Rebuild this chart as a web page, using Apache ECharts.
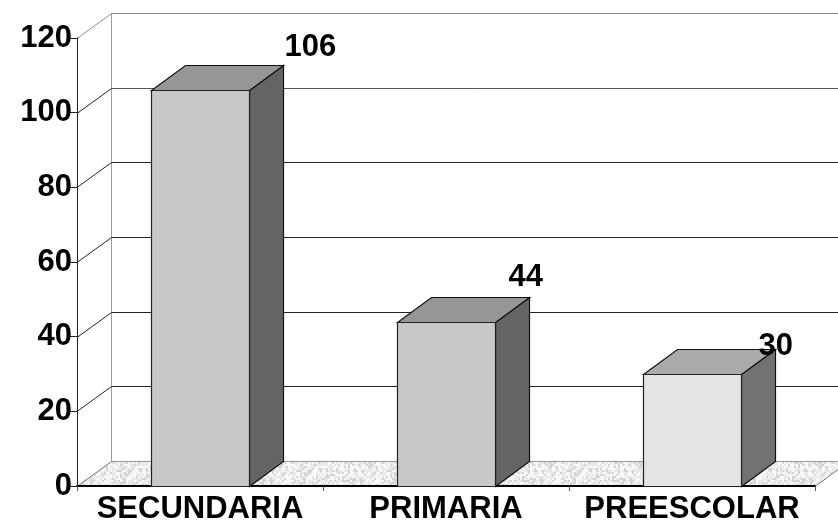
<!DOCTYPE html>
<html>
<head>
<meta charset="utf-8">
<title>Chart</title>
<script src="https://cdn.jsdelivr.net/npm/echarts@6/dist/echarts.min.js"></script>
<style>
html, body { margin: 0; padding: 0; background: #fff; }
#main { width: 838px; height: 532px; }
</style>
</head>
<body>
<div id="main"></div>
<script>
var categories = ['SECUNDARIA', 'PRIMARIA', 'PREESCOLAR'];
var values = [106, 44, 30];
var yTicks = [0, 20, 40, 60, 80, 100, 120];

// depth of the fake 3d box, in pixels
var DX = 34, DY = 25;
var FONT = '"Liberation Sans", Arial, sans-serif';
// colours of each bar: front, top, side
var barColors = [
    ['#c8c8c8', '#969696', '#646464'],
    ['#c8c8c8', '#969696', '#646464'],
    ['#e4e4e4', '#aaaaaa', '#727272']
];
// where each value label sits, relative to the back top corner of its bar
var labelOffset = [[1, -18], [-21, -20], [-17, -3]];

// mottled floor
function floorTexture() {
    var c = document.createElement('canvas');
    c.width = 90; c.height = 40;
    var ctx = c.getContext('2d');
    ctx.fillStyle = '#e6e6e6';
    ctx.fillRect(0, 0, 90, 40);
    for (var y = 0; y < 40; y += 2) {
        for (var x = 0; x < 90; x += 2) {
            var n = Math.sin(x * 12.9898 + y * 78.233) * 43758.5453;
            n = n - Math.floor(n);
            var g = n > 0.6 ? 248 : (n < 0.25 ? 212 : 232);
            ctx.fillStyle = 'rgb(' + g + ',' + g + ',' + g + ')';
            ctx.fillRect(x, y, 2, 2);
        }
    }
    return c;
}
var floorImg = floorTexture();

function poly(points, fill, stroke, width) {
    return {
        type: 'polygon',
        shape: { points: points },
        style: { fill: fill, stroke: stroke || null, lineWidth: width || 0, lineJoin: 'miter' }
    };
}
function line(x1, y1, x2, y2, color) {
    return {
        type: 'line',
        shape: { x1: x1, y1: y1, x2: x2, y2: y2 },
        style: { stroke: color, lineWidth: 1 }
    };
}

// floor, back wall and side wall
function renderWall(params, api) {
    var tick = api.value(0);
    var p = api.coord([0, tick]);
    var left = params.coordSys.x;
    var right = left + params.coordSys.width;
    var y = Math.round(p[1]) + 0.5;
    var color = tick === 120 ? '#8c8c8c' : (tick === 100 ? '#555555' : '#222222');
    var kids = [];
    if (tick === 0) {
        kids.push(poly([[left, y], [right, y], [right + DX, y - DY], [left + DX, y - DY]],
            { image: floorImg, repeat: 'repeat' }));
        kids.push(line(left + DX + 0.5, y - DY, right + DX, y - DY, '#9a9a9a'));
        kids.push(line(left, y, left + DX + 0.5, y - DY, '#777777'));
        kids.push(line(right, y, right + DX, y - DY, '#777777'));
        kids.push(line(left + DX + 0.5, y - DY, left + DX + 0.5, params.coordSys.y - DY + 0.5, '#9a9a9a'));
    } else {
        kids.push(line(left, y, left + DX + 0.5, y - DY, tick === 120 ? '#8c8c8c' : '#222222'));
        kids.push(line(left + DX + 0.5, y - DY, right + DX, y - DY, color));
    }
    return { type: 'group', children: kids };
}

function renderBar(params, api) {
    var i = params.dataIndex;
    var size = api.size([1, 0])[0] * 98 / 246;
    var top = api.coord([i, api.value(1)]);
    var base = api.coord([i, 0]);
    var x0 = Math.round(top[0] - size / 2) + 0.5;
    var x1 = x0 + Math.round(size);
    var y0 = Math.round(top[1]) + 0.5;
    var y1 = Math.round(base[1]) + 0.5;
    var c = barColors[i];
    var off = labelOffset[i];
    return {
        type: 'group',
        children: [
            poly([[x1, y0], [x1 + DX, y0 - DY], [x1 + DX, y1 - DY], [x1, y1]], c[2], '#111', 1.2),
            poly([[x0, y0], [x0 + DX, y0 - DY], [x1 + DX, y0 - DY], [x1, y0]], c[1], '#111', 1.2),
            poly([[x0, y0], [x1, y0], [x1, y1], [x0, y1]], c[0], '#222', 1.2),
            {
                type: 'text',
                x: x1 + DX + off[0],
                y: y0 - DY + off[1],
                style: {
                    text: String(api.value(1)),
                    fill: '#000',
                    font: 'bold 31px ' + FONT,
                    textAlign: 'left',
                    textVerticalAlign: 'middle'
                }
            }
        ]
    };
}

var chart = echarts.init(document.getElementById('main'), null, { renderer: 'canvas' });
var option = {
    backgroundColor: '#ffffff',
    animation: false,
    grid: { left: 77, right: 23, top: 38, bottom: 46 },
    xAxis: {
        type: 'category',
        data: categories,
        z: 5,
        axisLine: { lineStyle: { color: '#000', width: 2 } },
        axisTick: { show: true, length: 5, lineStyle: { color: '#555' } },
        axisLabel: { color: '#000', fontFamily: FONT, fontWeight: 'bold', fontSize: 31, margin: 8, interval: 0 }
    },
    yAxis: {
        type: 'value',
        min: 0,
        max: 120,
        interval: 20,
        z: 5,
        splitLine: { show: false },
        axisLine: { show: true, lineStyle: { color: '#222', width: 1 } },
        axisTick: { show: true, length: 7, lineStyle: { color: '#222' } },
        axisLabel: { color: '#000', fontFamily: FONT, fontWeight: 'bold', fontSize: 31, margin: 5 }
    },
    series: [
        {
            type: 'custom',
            z: 1,
            silent: true,
            renderItem: renderWall,
            encode: { y: 0 },
            data: yTicks.map(function (t) { return [t]; })
        },
        {
            type: 'custom',
            z: 6,
            renderItem: renderBar,
            encode: { x: 0, y: 1 },
            data: values.map(function (v, i) { return [i, v]; })
        }
    ]
};
chart.setOption(option);
</script>
</body>
</html>
